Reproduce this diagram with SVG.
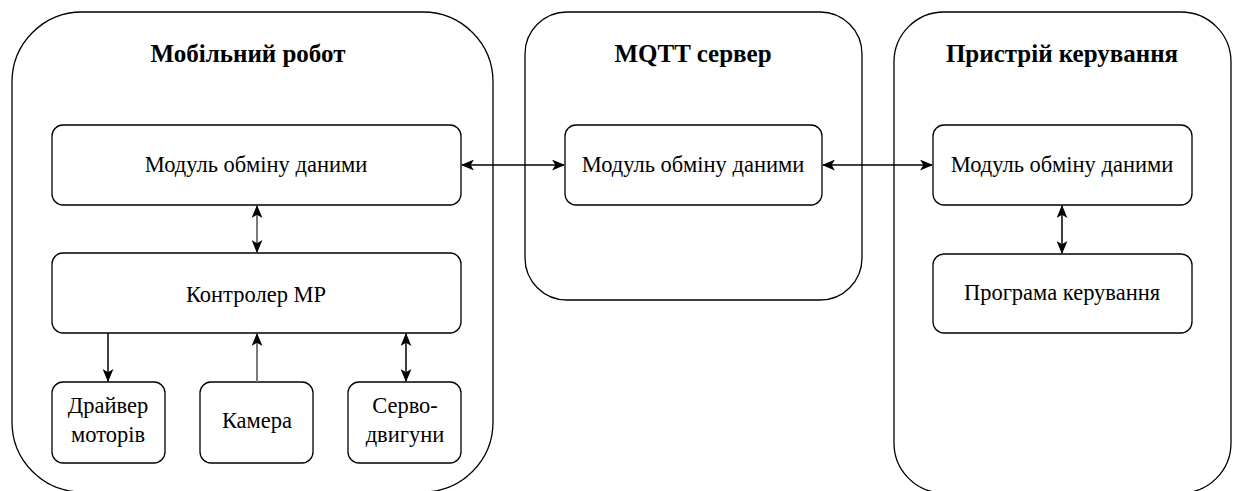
<svg xmlns="http://www.w3.org/2000/svg" width="1235" height="491" viewBox="0 0 1235 491">
  <style>
    .container { fill: #ffffff; stroke: #000000; stroke-width: 1.3; }
    .box { fill: #ffffff; stroke: #000000; stroke-width: 1.3; }
    .title { font-family: 'Liberation Serif', 'Times New Roman', serif; font-weight: bold; font-size: 25px; fill: #000000; text-anchor: middle; }
    .label { font-family: 'Liberation Serif', 'Times New Roman', serif; font-size: 22.5px; fill: #000000; text-anchor: middle; }
    .conn { fill: none; stroke: #000000; stroke-width: 1.5; }
    .conn-gray { fill: none; stroke: #7a7a7a; stroke-width: 2; }
  </style>
  <defs>
    <marker id="arrowEnd" viewBox="0 0 12 10" refX="11" refY="5" markerWidth="13" markerHeight="11" markerUnits="userSpaceOnUse" orient="auto">
      <path d="M0,0 L12,5 L0,10 L3,5 Z" fill="#000000"/>
    </marker>
    <marker id="arrowStart" viewBox="0 0 12 10" refX="1" refY="5" markerWidth="13" markerHeight="11" markerUnits="userSpaceOnUse" orient="auto">
      <path d="M12,0 L0,5 L12,10 L9,5 Z" fill="#000000"/>
    </marker>
  </defs>
  <rect width="1235" height="491" fill="#ffffff"/>

  <g id="robot">
    <rect class="container" x="12" y="12" width="481" height="480" rx="70" ry="70"/>
    <text class="title" x="248" y="62">Мобільний робот</text>
  </g>
  <g id="mqtt">
    <rect class="container" x="525" y="12" width="337" height="288" rx="42" ry="42"/>
    <text class="title" x="693" y="62">MQTT сервер</text>
  </g>
  <g id="device">
    <rect class="container" x="894" y="12" width="337" height="481" rx="50" ry="50"/>
    <text class="title" x="1062" y="62">Пристрій керування</text>
  </g>

  <g id="robot-exchange">
    <rect class="box" x="52" y="125" width="409" height="80" rx="11" ry="11"/>
    <text class="label" x="256" y="172">Модуль обміну даними</text>
  </g>
  <g id="controller">
    <rect class="box" x="52" y="253" width="409" height="80" rx="11" ry="11"/>
    <text class="label" x="256" y="302">Контролер МР</text>
  </g>
  <g id="driver">
    <rect class="box" x="52" y="382" width="113" height="81" rx="11" ry="11"/>
    <text class="label" x="108" y="413">Драйвер</text>
    <text class="label" x="108" y="442">моторів</text>
  </g>
  <g id="camera">
    <rect class="box" x="200" y="382" width="113" height="81" rx="11" ry="11"/>
    <text class="label" x="257" y="428">Камера</text>
  </g>
  <g id="servo">
    <rect class="box" x="348" y="382" width="113" height="81" rx="11" ry="11"/>
    <text class="label" x="405" y="413">Серво-</text>
    <text class="label" x="405" y="442">двигуни</text>
  </g>
  <g id="mqtt-exchange">
    <rect class="box" x="565" y="125" width="257" height="80" rx="11" ry="11"/>
    <text class="label" x="693" y="172">Модуль обміну даними</text>
  </g>
  <g id="device-exchange">
    <rect class="box" x="933" y="125" width="259" height="80" rx="11" ry="11"/>
    <text class="label" x="1062" y="172">Модуль обміну даними</text>
  </g>
  <g id="program">
    <rect class="box" x="933" y="254" width="259" height="79" rx="11" ry="11"/>
    <text class="label" x="1062" y="300">Програма керування</text>
  </g>

  <g id="connectors">
    <line class="conn" x1="462" y1="165" x2="564" y2="165" marker-start="url(#arrowStart)" marker-end="url(#arrowEnd)"/>
    <line class="conn" x1="823" y1="165" x2="932" y2="165" marker-start="url(#arrowStart)" marker-end="url(#arrowEnd)"/>
    <line class="conn-gray" x1="257" y1="206" x2="257" y2="252" marker-start="url(#arrowStart)" marker-end="url(#arrowEnd)"/>
    <line class="conn" x1="108" y1="333" x2="108" y2="381" marker-end="url(#arrowEnd)"/>
    <line class="conn-gray" x1="257" y1="382" x2="257" y2="334" marker-end="url(#arrowEnd)"/>
    <line class="conn" x1="406" y1="334" x2="406" y2="381" marker-start="url(#arrowStart)" marker-end="url(#arrowEnd)"/>
    <line class="conn" x1="1062" y1="206" x2="1062" y2="253" marker-start="url(#arrowStart)" marker-end="url(#arrowEnd)"/>
  </g>
</svg>
